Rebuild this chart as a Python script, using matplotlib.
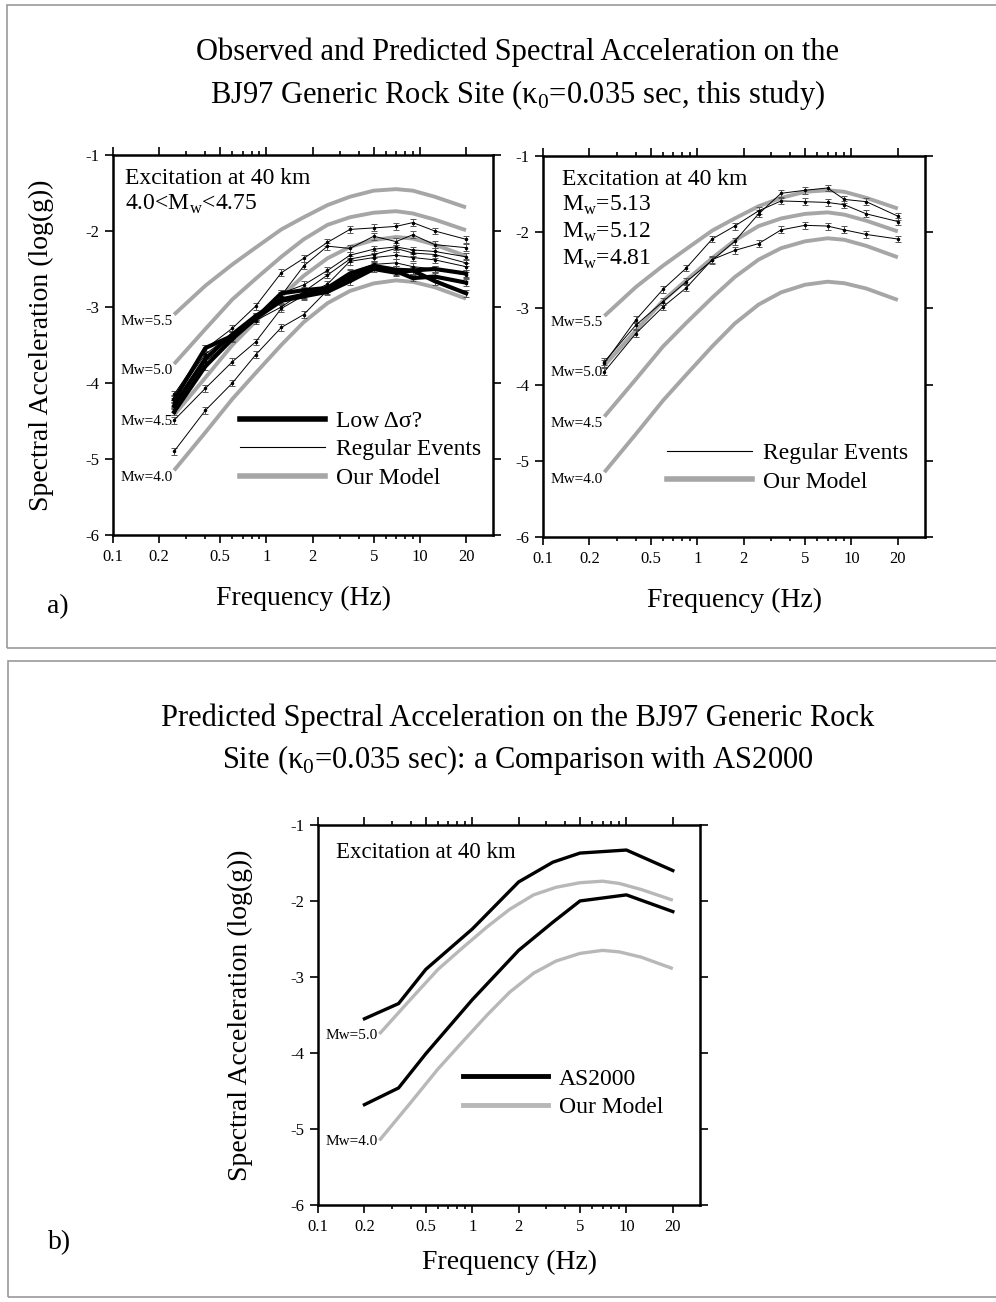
import matplotlib.pyplot as plt
from matplotlib.patches import Rectangle
from matplotlib.ticker import FixedLocator, NullFormatter

plt.rcParams['font.family'] = ['Liberation Serif', 'DejaVu Serif']
plt.rcParams['mathtext.fontset'] = 'custom'
plt.rcParams['mathtext.rm'] = 'Liberation Serif'
plt.rcParams['axes.unicode_minus'] = False

# frequencies of model and observations (Hz)
freq = [0.25, 0.4, 0.6, 0.85, 1.25, 1.75, 2.5, 3.5, 5, 7, 9, 12.5, 20]

# our model, log10 SA (g)
model_m55 = [-3.10, -2.72, -2.44, -2.22, -1.98, -1.82, -1.66, -1.55, -1.47, -1.45, -1.47, -1.55, -1.69]
model_m50 = [-3.75, -3.29, -2.90, -2.63, -2.34, -2.11, -1.92, -1.82, -1.76, -1.74, -1.77, -1.85, -1.99]
model_m45 = [-4.42, -3.93, -3.50, -3.19, -2.86, -2.59, -2.36, -2.21, -2.12, -2.08, -2.10, -2.18, -2.33]
model_m40 = [-5.15, -4.65, -4.21, -3.87, -3.50, -3.20, -2.95, -2.79, -2.69, -2.65, -2.67, -2.74, -2.89]
model_labels = ['Mw=5.5', 'Mw=5.0', 'Mw=4.5', 'Mw=4.0']

# panel a, left: regular events 4.0<Mw<4.75
reg_1 = [-4.15, -3.55, -3.28, -2.99, -2.55, -2.36, -2.15, -1.98, -1.96, -1.94, -1.89, -2.00, -2.11]
reg_2 = [-4.20, -3.62, -3.36, -3.12, -2.85, -2.46, -2.20, -2.23, -2.07, -2.14, -2.05, -2.18, -2.22]
reg_3 = [-4.27, -3.66, -3.40, -3.14, -2.82, -2.71, -2.52, -2.32, -2.24, -2.21, -2.25, -2.27, -2.34]
reg_4 = [-4.38, -3.72, -3.42, -3.18, -3.00, -2.80, -2.58, -2.37, -2.31, -2.23, -2.29, -2.31, -2.42]
reg_5 = [-4.49, -4.07, -3.72, -3.46, -3.02, -2.85, -2.70, -2.40, -2.35, -2.32, -2.35, -2.38, -2.47]
reg_6 = [-4.90, -4.36, -4.00, -3.63, -3.27, -3.10, -2.78, -2.55, -2.44, -2.42, -2.47, -2.50, -2.58]
# low stress-drop events
low_1 = [-4.22, -3.54, -3.38, -3.15, -2.82, -2.78, -2.75, -2.56, -2.46, -2.51, -2.52, -2.50, -2.56]
low_2 = [-4.30, -3.68, -3.36, -3.12, -2.90, -2.84, -2.76, -2.62, -2.47, -2.53, -2.62, -2.60, -2.68]
low_3 = [-4.38, -3.78, -3.42, -3.15, -2.92, -2.86, -2.80, -2.66, -2.50, -2.55, -2.52, -2.66, -2.82]

# panel a, right: three larger events
ev_513 = [-3.72, -3.15, -2.75, -2.47, -2.09, -1.92, -1.72, -1.59, -1.60, -1.61, -1.64, -1.76, -1.86]
ev_512 = [-3.70, -3.22, -2.91, -2.65, -2.37, -2.12, -1.76, -1.49, -1.45, -1.42, -1.57, -1.60, -1.79]
ev_481 = [-3.83, -3.33, -2.98, -2.73, -2.36, -2.24, -2.15, -1.97, -1.91, -1.92, -1.97, -2.03, -2.09]
obs_err = 0.045

# panel b: AS2000
as_freq = [0.2, 0.333, 0.5, 1, 2, 3.333, 5, 10, 20]
as_m50 = [-3.55, -3.35, -2.90, -2.37, -1.75, -1.49, -1.37, -1.33, -1.60]
as_m40 = [-4.68, -4.46, -4.01, -3.30, -2.65, -2.28, -2.00, -1.92, -2.14]

xticks = [0.1, 0.2, 0.5, 1, 2, 5, 10, 20]
xtick_labels = ['0.1', '0.2', '0.5', '1', '2', '5', '10', '20']
xminor = [0.3, 0.4, 0.6, 0.7, 0.8, 0.9, 3, 4, 6, 7, 8, 9]
yticks = [-6, -5, -4, -3, -2, -1]

GRAY = '#a6a6a6'


def style_axes(ax):
    ax.set_xscale('log')
    ax.set_xlim(0.1, 30)
    ax.set_ylim(-6, -1)
    ax.set_xticks(xticks)
    ax.set_xticklabels(xtick_labels)
    ax.xaxis.set_minor_locator(FixedLocator(xminor))
    ax.xaxis.set_minor_formatter(NullFormatter())
    ax.set_yticks(yticks)
    ax.set_yticklabels([str(v) for v in yticks])
    ax.tick_params(which='both', direction='out', top=True, right=True, labelsize=12, width=1.2)
    ax.tick_params(which='major', length=6, pad=4)
    ax.tick_params(which='minor', length=3)
    for s in ax.spines.values():
        s.set_linewidth(1.8)


def draw_models(ax, models, labels, color=GRAY, lw=2.8, dy=-5):
    for m, lab in zip(models, labels):
        ax.plot(freq, m, color=color, lw=lw, zorder=2, solid_capstyle='butt')
        ax.annotate(lab, xy=(freq[0], m[0]), xytext=(-1, dy), textcoords='offset points',
                    ha='right', va='center', fontsize=11)


def draw_obs(ax, series, lw, color='black'):
    for s in series:
        ax.errorbar(freq, s, yerr=obs_err, color=color, lw=lw, ecolor='#555555',
                    elinewidth=0.7, capsize=2.5, capthick=0.7, marker='.', ms=3, zorder=3)


def legend(ax, handles, labels, anchor):
    ax.legend(handles, labels, loc='upper left', bbox_to_anchor=anchor, frameon=False,
              fontsize=17, handlelength=3.6, handletextpad=0.45, labelspacing=0.3,
              borderpad=0, borderaxespad=0)


fig = plt.figure(figsize=(9.96, 13.02), dpi=100)

# frames around the two parts
fig.patches.append(Rectangle((0.007, 0.5023), 1.1, 0.4937, transform=fig.transFigure,
                             fill=False, ec='#999999', lw=1.2))
fig.patches.append(Rectangle((0.008, 0.0038), 1.1, 0.4885, transform=fig.transFigure,
                             fill=False, ec='#999999', lw=1.2))

fig.text(0.52, 0.960, 'Observed and Predicted Spectral Acceleration on the',
         ha='center', va='center', fontsize=22)
fig.text(0.52, 0.927, 'BJ97 Generic Rock Site (κ$_\\mathregular{0}$=0.035 sec, this study)',
         ha='center', va='center', fontsize=22)

# ---- panel a left
ax1 = fig.add_axes([0.1135, 0.5891, 0.3815, 0.2919])
style_axes(ax1)
draw_models(ax1, [model_m55, model_m50, model_m45, model_m40], model_labels)
draw_obs(ax1, [reg_1, reg_2, reg_3, reg_4, reg_5, reg_6], lw=0.7)
draw_obs(ax1, [low_1, low_2, low_3], lw=3.0)
ax1.text(0.032, 0.965, 'Excitation at 40 km\n4.0<M$_\\mathregular{w}$<4.75', transform=ax1.transAxes,
         ha='left', va='top', fontsize=17, linespacing=1.2)
h1, = ax1.plot([], [], color='black', lw=4)
h2, = ax1.plot([], [], color='black', lw=0.8)
h3, = ax1.plot([], [], color=GRAY, lw=4)
legend(ax1, [h1, h2, h3], ['Low Δσ?', 'Regular Events', 'Our Model'], (0.334, 0.328))
ax1.set_xlabel('Frequency (Hz)', fontsize=20, labelpad=15)

fig.text(0.042, 0.735, 'Spectral Acceleration (log(g))', rotation=90, ha='center', va='center',
         fontsize=20)
fig.text(0.058, 0.5338, 'a)', ha='center', va='center', fontsize=20)

# ---- panel a right
ax2 = fig.add_axes([0.5452, 0.5876, 0.3835, 0.2926])
style_axes(ax2)
draw_models(ax2, [model_m55, model_m50, model_m45, model_m40], model_labels)
draw_obs(ax2, [ev_513, ev_512, ev_481], lw=0.7)
ax2.text(0.05, 0.965, 'Excitation at 40 km\nM$_\\mathregular{w}$=5.13\nM$_\\mathregular{w}$=5.12\nM$_\\mathregular{w}$=4.81',
         transform=ax2.transAxes, ha='left', va='top', fontsize=17, linespacing=1.22)
g2, = ax2.plot([], [], color='black', lw=0.8)
g3, = ax2.plot([], [], color=GRAY, lw=4)
legend(ax2, [g2, g3], ['Regular Events', 'Our Model'], (0.325, 0.248))
ax2.set_xlabel('Frequency (Hz)', fontsize=20, labelpad=15)

# ---- panel b
fig.text(0.52, 0.4485, 'Predicted Spectral Acceleration on the BJ97 Generic Rock',
         ha='center', va='center', fontsize=22)
fig.text(0.52, 0.4163, 'Site (κ$_\\mathregular{0}$=0.035 sec): a Comparison with AS2000',
         ha='center', va='center', fontsize=22)

ax3 = fig.add_axes([0.3193, 0.0745, 0.3835, 0.2919])
style_axes(ax3)
draw_models(ax3, [model_m50, model_m40], ['Mw=5.0', 'Mw=4.0'], color='#b8b8b8', lw=2.4, dy=-1)
ax3.plot(as_freq, as_m50, color='black', lw=2.4, zorder=3)
ax3.plot(as_freq, as_m40, color='black', lw=2.4, zorder=3)
ax3.text(0.047, 0.955, 'Excitation at 40 km', transform=ax3.transAxes,
         ha='left', va='top', fontsize=16.5)
k1, = ax3.plot([], [], color='black', lw=3.5)
k2, = ax3.plot([], [], color='#b8b8b8', lw=3.5)
legend(ax3, [k1, k2], ['AS2000', 'Our Model'], (0.38, 0.36))
ax3.set_xlabel('Frequency (Hz)', fontsize=20, labelpad=11)
fig.text(0.241, 0.2204, 'Spectral Acceleration (log(g))', rotation=90, ha='center', va='center',
         fontsize=20)
fig.text(0.06, 0.0453, 'b)', ha='center', va='center', fontsize=20)

fig.savefig('out.png', dpi=100)
